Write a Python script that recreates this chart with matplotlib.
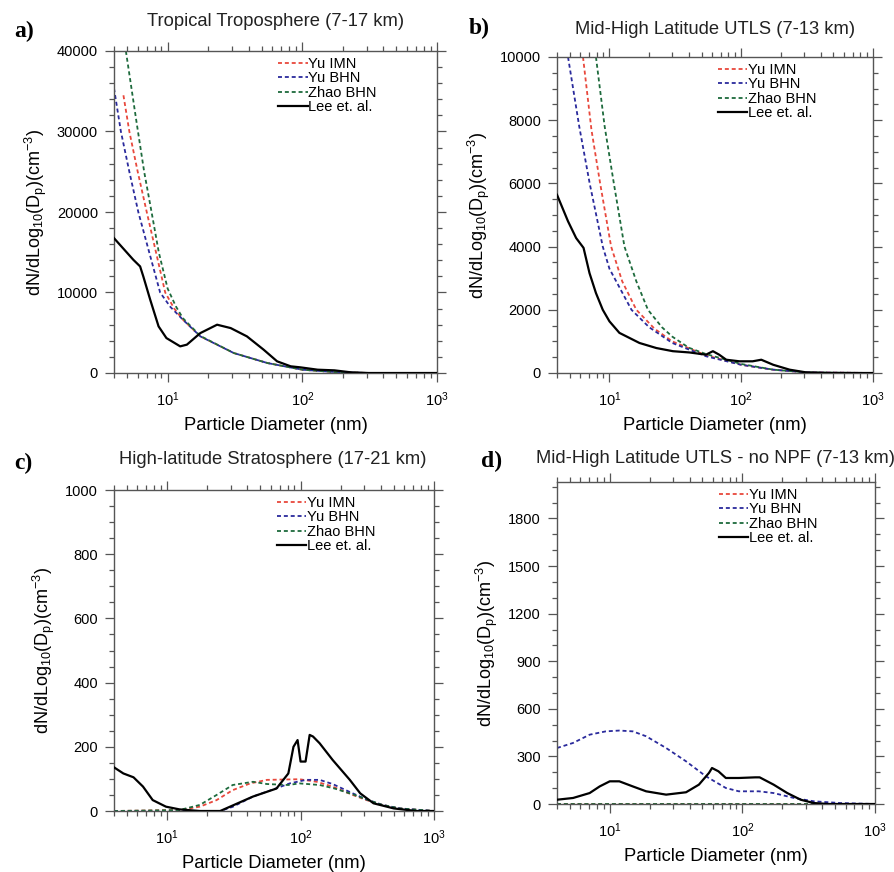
import matplotlib
matplotlib.use("Agg")
import matplotlib.pyplot as plt
from matplotlib.ticker import FixedLocator, MultipleLocator, LogLocator, NullFormatter
import numpy as np

plt.rcParams['font.family'] = ['Liberation Sans', 'DejaVu Sans']
plt.rcParams['mathtext.fontset'] = 'custom'
plt.rcParams['mathtext.rm'] = 'Liberation Sans'
plt.rcParams['mathtext.it'] = 'Liberation Sans:italic'
plt.rcParams['mathtext.bf'] = 'Liberation Sans:bold'
plt.rcParams['mathtext.default'] = 'rm'

# ---- dados ----
# a) Tropical Troposphere
a_lee_d = [4, 5.57, 6.25, 6.6, 7.43, 8.57, 9.8, 12.4, 13.9, 17.5, 23.3, 29.4, 38.8, 51.6, 65, 82, 97, 130, 173, 230, 310, 1000]
a_lee_v = [16750, 14060, 13240, 12000, 9100, 5790, 4340, 3310, 3520, 4960, 6000, 5580, 4550, 2900, 1450, 830, 700, 410, 330, 80, 0, 0]
a_imn_d = [4.7, 5.2, 6.0, 7.0, 8.2, 9.6, 11.2, 13, 17.5, 31, 55, 100, 173, 310, 1000]
a_imn_v = [34500, 30000, 25000, 20000, 15000, 10000, 8000, 6620, 4550, 2480, 1240, 410, 120, 0, 0]
a_bhn_d = [4, 4.5, 5.2, 6.06, 7.3, 8.8, 10.5, 13, 17.5, 31, 55, 100, 173, 310, 1000]
a_bhn_v = [35370, 30000, 25000, 20000, 15000, 10000, 8200, 6620, 4550, 2480, 1240, 410, 120, 0, 0]
a_zhao_d = [4.9, 5.9, 6.7, 7.6, 8.6, 10.0, 11.5, 13, 17.5, 31, 55, 100, 173, 310, 1000]
a_zhao_v = [40000, 31000, 25000, 20000, 15000, 10500, 8300, 6800, 4600, 2480, 1240, 410, 120, 0, 0]

# b) Mid-High Latitude UTLS
b_lee_d = [4, 4.85, 5.59, 6.36, 7.06, 7.9, 8.9, 10, 11.9, 16.9, 22.7, 30.3, 40.5, 54, 61, 68, 77, 97, 122, 142, 175, 233, 310, 450, 1000]
b_lee_v = [5640, 4800, 4270, 3960, 3160, 2530, 2000, 1635, 1270, 950, 790, 690, 650, 580, 690, 580, 420, 370, 370, 420, 260, 105, 20, 0, 0]
b_imn_d = [6.3, 7.3, 8.5, 10.3, 12.5, 16, 22, 30, 54, 100, 175, 310, 1000]
b_imn_v = [10000, 7700, 6000, 4000, 2900, 2000, 1400, 1000, 560, 260, 105, 20, 0]
b_bhn_d = [4.85, 5.9, 7.08, 8.9, 10, 14.7, 20, 30, 54, 100, 175, 310, 1000]
b_bhn_v = [10000, 7800, 6000, 4000, 3300, 2000, 1450, 950, 530, 260, 105, 20, 0]
b_zhao_d = [7.9, 9.2, 10.8, 13, 16, 19.6, 25, 30, 40, 54, 100, 175, 310, 1000]
b_zhao_v = [10000, 7800, 6000, 4000, 2900, 2000, 1450, 1150, 800, 600, 285, 105, 20, 0]

# c) High-latitude Stratosphere
c_lee_d = [4, 4.7, 5.6, 6.6, 7.8, 9.8, 12.4, 17.6, 25, 44, 66, 81, 88.5, 95, 100, 109, 117, 124, 139, 174, 234, 280, 352, 500, 740, 1000]
c_lee_v = [136, 117, 105, 76, 34, 13.5, 5, 0, 0, 45, 70, 117, 200, 221, 154, 154, 237, 232, 211, 159, 97, 55, 24, 8, 0, 0]
c_imn_d = [4, 12.4, 17.6, 23.5, 31, 42, 56, 98, 132, 174, 246, 312, 410, 553, 1000]
c_imn_v = [0, 3, 13.5, 34, 65, 86, 97, 99, 91, 76, 50, 34, 19, 8, 0]
c_bhn_d = [4, 25, 31, 44, 66, 83, 110, 139, 174, 246, 312, 410, 553, 1000]
c_bhn_v = [0, 0, 13, 45, 71, 86, 97, 97, 84, 55, 36, 19, 8, 0]
c_zhao_d = [4, 12.4, 17.6, 23.5, 31, 44, 56, 81, 98, 139, 180, 246, 312, 410, 553, 1000]
c_zhao_v = [0, 3, 19, 50, 81, 91, 84, 81, 86, 81, 70, 52, 36, 19, 8, 0]

# d) Mid-High Latitude UTLS - no NPF
d_lee_d = [4, 5.29, 7.05, 8.4, 10, 11.8, 14.9, 18.8, 26.6, 37.6, 47, 56, 59, 66, 75, 94, 125, 135, 172, 218, 275, 346, 450, 1000]
d_lee_v = [27, 38, 69, 111, 143, 143, 111, 80, 59, 74, 122, 196, 227, 206, 164, 164, 168, 168, 122, 69, 27, 6, 0, 0]
d_bhn_d = [4, 5.29, 7.05, 9.34, 11.8, 14.9, 18.8, 26.6, 37.6, 53, 75, 94, 133, 172, 245, 346, 550, 1000]
d_bhn_v = [353, 385, 437, 458, 463, 458, 427, 353, 269, 175, 101, 80, 80, 69, 38, 17, 6, 0]
d_imn_d = [4, 1000]
d_imn_v = [0, 0]
d_zhao_d = [4, 1000]
d_zhao_v = [0, 0]

titles = ['Tropical Troposphere (7-17 km)', 'Mid-High Latitude UTLS (7-13 km)',
          'High-latitude Stratosphere (17-21 km)', 'Mid-High Latitude UTLS - no NPF (7-13 km)']
letters = ['a)', 'b)', 'c)', 'd)']
ymaxs = [40000, 10000, 1000, 2030]
ymajor = [10000, 2000, 200, 300]
yminor = [2000, 500, 50, 100]

series = [
    (a_imn_d, a_imn_v, a_bhn_d, a_bhn_v, a_zhao_d, a_zhao_v, a_lee_d, a_lee_v),
    (b_imn_d, b_imn_v, b_bhn_d, b_bhn_v, b_zhao_d, b_zhao_v, b_lee_d, b_lee_v),
    (c_imn_d, c_imn_v, c_bhn_d, c_bhn_v, c_zhao_d, c_zhao_v, c_lee_d, c_lee_v),
    (d_imn_d, d_imn_v, d_bhn_d, d_bhn_v, d_zhao_d, d_zhao_v, d_lee_d, d_lee_v),
]

W, H = 894, 872
fig = plt.figure(figsize=(W / 100, H / 100), dpi=100)

# caixas em pixels: esquerda, topo, direita, base
boxes = [(114, 51, 437, 373), (557, 57, 873, 373), (114, 490, 434, 811), (557, 482, 875, 804)]
title_pos = [(276, 22), (715, 30), (273, 460), (716, 458)]
letter_pos = [(24, 31), (479, 28), (23, 463), (492, 461)]

RED = '#e8483c'
BLUE = '#2a2a9c'
GREEN = '#1d6a3c'
FRAME = '#555555'
dash = (0, (2.2, 1.6))

for i in range(4):
    l, t, r, b = boxes[i]
    ax = fig.add_axes([l / W, 1 - b / H, (r - l) / W, (b - t) / H])
    imn_d, imn_v, bhn_d, bhn_v, zhao_d, zhao_v, lee_d, lee_v = series[i]
    h_imn, = ax.plot(imn_d, imn_v, color=RED, ls=dash, lw=1.3)
    h_zhao, = ax.plot(zhao_d, zhao_v, color=GREEN, ls=dash, lw=1.3)
    h_bhn, = ax.plot(bhn_d, bhn_v, color=BLUE, ls=dash, lw=1.3)
    if i != 3:
        # ordem de desenho como no original: verde por cima
        h_zhao.set_zorder(2.1)
    h_lee, = ax.plot(lee_d, lee_v, color='black', lw=1.6, zorder=3)

    ax.set_xscale('log')
    ax.set_xlim(4, 1000)
    ax.set_ylim(0, ymaxs[i])
    ax.xaxis.set_major_locator(FixedLocator([10, 100, 1000]))
    ax.xaxis.set_minor_locator(LogLocator(base=10, subs=np.arange(2, 10)))
    ax.xaxis.set_minor_formatter(NullFormatter())
    ax.set_xticklabels(['$10^1$', '$10^2$', '$10^3$'])
    ax.yaxis.set_major_locator(MultipleLocator(ymajor[i]))
    ax.yaxis.set_minor_locator(MultipleLocator(yminor[i]))
    ax.tick_params(which='both', direction='out', top=True, right=True, color=FRAME, width=0.9)
    ax.tick_params(which='major', length=6.5, labelsize=10.5, pad=5)
    ax.tick_params(which='minor', length=3.5)
    ax.tick_params(axis='x', which='major', pad=6)
    for s in ax.spines.values():
        s.set_color(FRAME)
        s.set_linewidth(1.0)
    ax.set_xlabel('Particle Diameter (nm)', fontsize=13.2, labelpad=6)
    ax.set_ylabel(r'dN/dLog$_{10}$(D$_p$)(cm$^{-3}$)', fontsize=13, labelpad=6)

    ax.legend([h_imn, h_bhn, h_zhao, h_lee], ['Yu IMN', 'Yu BHN', 'Zhao BHN', 'Lee et. al.'],
              loc='upper left', bbox_to_anchor=(0.5, 0.99),
              frameon=False, fontsize=10.5, handlelength=2.0, handletextpad=0.05,
              labelspacing=0.02, borderpad=0.2, borderaxespad=0)

    fig.text(title_pos[i][0] / W, 1 - title_pos[i][1] / H, titles[i], ha='center', va='center',
             fontsize=13.2, color='#222222')
    fig.text(letter_pos[i][0] / W, 1 - letter_pos[i][1] / H, letters[i], ha='center', va='center',
             fontsize=17, fontweight='bold', family='Liberation Serif')

fig.savefig('out.png', dpi=100)
